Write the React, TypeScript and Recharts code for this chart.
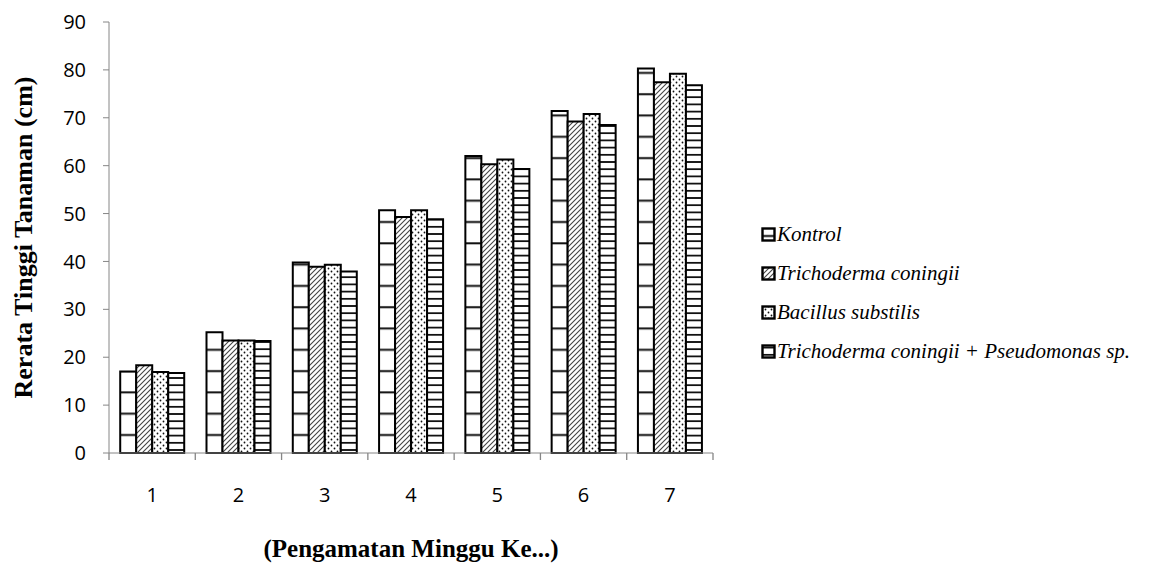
import { BarChart, Bar, XAxis, YAxis, Legend } from 'recharts';

// Rerata tinggi tanaman per minggu pengamatan
const weeks = ['1', '2', '3', '4', '5', '6', '7'];
const kontrol = [17.0, 25.2, 39.8, 50.7, 62.0, 71.4, 80.3];
const trichoderma = [18.3, 23.5, 38.9, 49.3, 60.3, 69.2, 77.4];
const bacillus = [16.9, 23.5, 39.3, 50.7, 61.3, 70.8, 79.2];
const kombinasi = [16.7, 23.4, 37.9, 48.8, 59.3, 68.5, 76.8];
const yTicks = [0, 10, 20, 30, 40, 50, 60, 70, 80, 90];

const seriesNames = [
  'Kontrol',
  'Trichoderma coningii',
  'Bacillus substilis',
  'Trichoderma coningii + Pseudomonas sp.',
];

const data = weeks.map((w, i) => ({
  week: w,
  kontrol: kontrol[i],
  trichoderma: trichoderma[i],
  bacillus: bacillus[i],
  kombinasi: kombinasi[i],
}));

const AXIS_GRAY = '#868686';
const SANS = '"Open Sans", "Noto Sans", sans-serif';
const SERIF = '"Liberation Serif", "Times New Roman", serif';

// x tick: label in the middle, tick mark on the category boundaries
const WeekTick = (props: any) => {
  const { x, y, payload, index, visibleTicksCount, width } = props;
  const band = width && visibleTicksCount ? width / visibleTicksCount : (payload.offset || 0) * 2;
  const axisY = y - 35;
  return (
    <g>
      <line x1={x - band / 2} x2={x - band / 2} y1={axisY} y2={axisY + 7} stroke={AXIS_GRAY} strokeWidth={1.3} />
      {index === visibleTicksCount - 1 && (
        <line x1={x + band / 2} x2={x + band / 2} y1={axisY} y2={axisY + 7} stroke={AXIS_GRAY} strokeWidth={1.3} />
      )}
      <text x={x} y={y} dy="0.71em" textAnchor="middle" fontFamily={SANS} fontSize={20} fill="#000">
        {payload.value}
      </text>
    </g>
  );
};

const PatternLegend = (props: any) => {
  // keep the series order, not the alphabetical one
  const items = [...(props.payload || [])].sort(
    (a: any, b: any) => seriesNames.indexOf(a.value) - seriesNames.indexOf(b.value)
  );
  return (
    <div>
      {items.map((entry: any, idx: number) => (
        <div key={idx} style={{ display: 'flex', alignItems: 'center', height: 39 }}>
          <svg width={15} height={15} style={{ marginRight: 1 }}>
            <rect x={1.5} y={1.5} width={12} height={12} fill={entry.color} stroke="#000" strokeWidth={2.4} />
          </svg>
          <span style={{ fontFamily: SERIF, fontStyle: 'italic', fontSize: 21, color: '#000', whiteSpace: 'nowrap' }}>
            {entry.value}
          </span>
        </div>
      ))}
    </div>
  );
};

export default function App() {
  return (
    <div style={{ position: 'absolute', left: 0, top: 0, background: '#fff' }}>
      <BarChart
        width={1151}
        height={563}
        data={data}
        margin={{ top: 22, right: 438, bottom: 50, left: 0 }}
        barCategoryGap="13%"
        barGap={0}
      >
        <defs>
          <pattern id="pKontrol" patternUnits="userSpaceOnUse" width={21.3} height={21.3}>
            <rect width={21.3} height={21.3} fill="#fff" />
            <line x1={0} x2={21.3} y1={9} y2={9} stroke="#111" strokeWidth={2} />
          </pattern>
          <pattern id="pTricho" patternUnits="userSpaceOnUse" width={5} height={5}>
            <rect width={5} height={5} fill="#fff" />
            <path d="M0,5 L5,0 M-1,1 L1,-1 M4,6 L6,4" stroke="#444" strokeWidth={1.1} />
          </pattern>
          <pattern id="pBacillus" patternUnits="userSpaceOnUse" width={6} height={6}>
            <rect width={6} height={6} fill="#fff" />
            <circle cx={1.5} cy={1.5} r={0.9} fill="#111" />
            <circle cx={4.5} cy={4.5} r={0.9} fill="#111" />
          </pattern>
          <pattern id="pKombinasi" patternUnits="userSpaceOnUse" width={7.2} height={7.2}>
            <rect width={7.2} height={7.2} fill="#fff" />
            <line x1={0} x2={7.2} y1={3.6} y2={3.6} stroke="#111" strokeWidth={1.8} />
          </pattern>
        </defs>
        <XAxis
          dataKey="week"
          height={60}
          stroke={AXIS_GRAY}
          tickLine={false}
          tickSize={7}
          tickMargin={28}
          tick={<WeekTick />}
          interval={0}
          label={{
            value: '(Pengamatan Minggu Ke...)',
            position: 'bottom',
            offset: 26,
            style: { fontFamily: SERIF, fontWeight: 'bold', fontSize: 25, fill: '#000' },
          }}
        />
        <YAxis
          width={109}
          domain={[0, 90]}
          ticks={yTicks}
          interval={0}
          stroke={AXIS_GRAY}
          tickSize={6}
          tickMargin={17}
          tick={{ fontFamily: SANS, fontSize: 20, fill: '#000' }}
          label={{
            value: 'Rerata Tinggi Tanaman (cm)',
            angle: -90,
            position: 'insideLeft',
            offset: 23,
            style: { textAnchor: 'middle', fontFamily: SERIF, fontWeight: 'bold', fontSize: 26, fill: '#000' },
          }}
        />
        <Legend
          layout="vertical"
          align="center"
          verticalAlign="middle"
          content={<PatternLegend />}
          wrapperStyle={{ left: 761, top: 215, width: 390 }}
        />
        <Bar dataKey="kontrol" name={seriesNames[0]} fill="url(#pKontrol)" stroke="#000" strokeWidth={2} isAnimationActive={false} />
        <Bar dataKey="trichoderma" name={seriesNames[1]} fill="url(#pTricho)" stroke="#000" strokeWidth={2} isAnimationActive={false} />
        <Bar dataKey="bacillus" name={seriesNames[2]} fill="url(#pBacillus)" stroke="#000" strokeWidth={2} isAnimationActive={false} />
        <Bar dataKey="kombinasi" name={seriesNames[3]} fill="url(#pKombinasi)" stroke="#000" strokeWidth={2} isAnimationActive={false} />
      </BarChart>
    </div>
  );
}
